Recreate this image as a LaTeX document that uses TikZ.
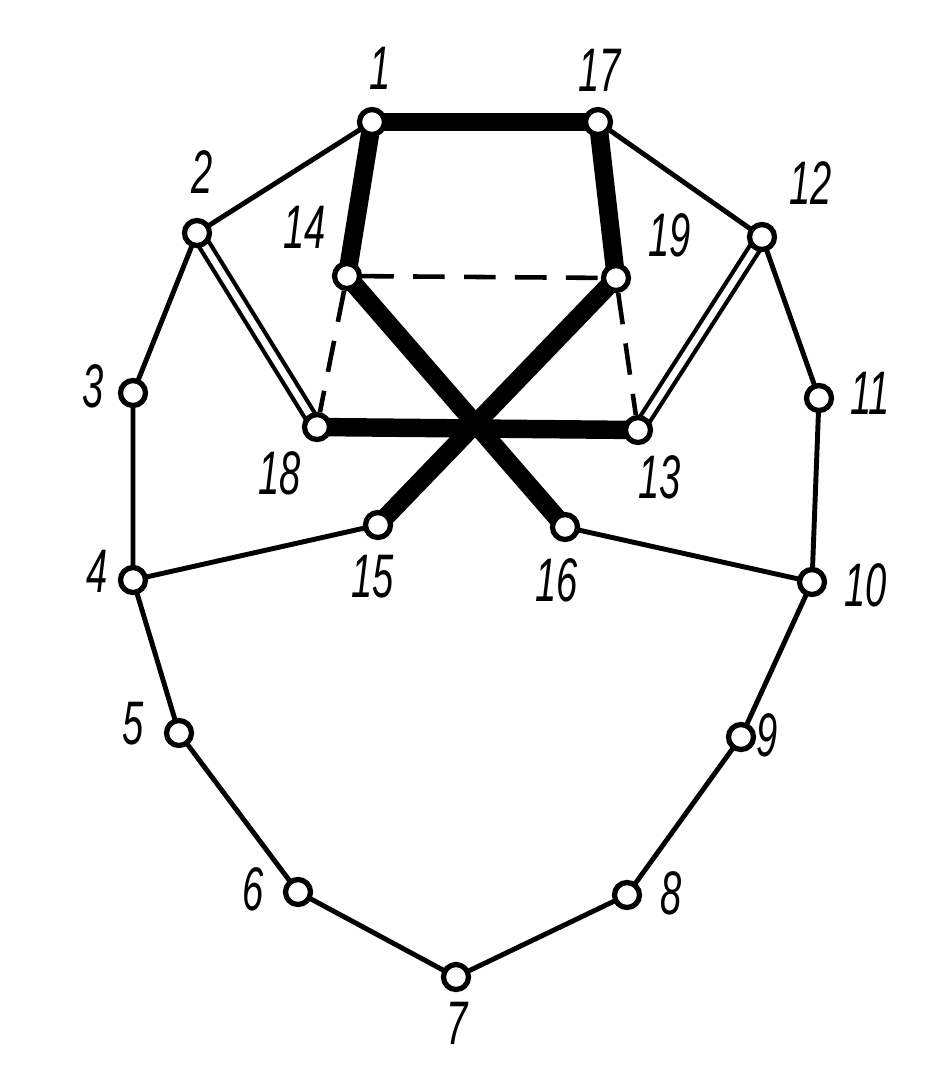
\documentclass[tikz,border=0pt]{standalone}
\usepackage{fontspec}
\usetikzlibrary{backgrounds}
\newfontfamily\labfont[FakeStretch=0.62]{Liberation Sans}
\begin{document}
\begin{tikzpicture}[x=0.02cm,y=-0.02cm,
  vtx/.style={circle,draw=black,fill=white,line width=3pt,minimum size=0.5cm,inner sep=0pt},
  lab/.style={font=\labfont\itshape\fontsize{35}{40}\selectfont,inner sep=0pt},
  thin/.style={line width=2.8pt},
  heavy/.style={line width=10.5pt},
  dsh/.style={line width=2.6pt,dash pattern=on 18pt off 11pt},
  dbl/.style={line width=2.4pt,double=white,double distance=3.8pt}]
\useasboundingbox (0,0) rectangle (948,1090);
% vertices
\node[vtx] (n1) at (372,122) {};
\node[vtx] (n17) at (598,122) {};
\node[vtx] (n2) at (197,233) {};
\node[vtx] (n12) at (762,237) {};
\node[vtx] (n14) at (347,276) {};
\node[vtx] (n19) at (616,278) {};
\node[vtx] (n3) at (133,393) {};
\node[vtx] (n11) at (819,398) {};
\node[vtx] (n18) at (317,427) {};
\node[vtx] (n13) at (638,430) {};
\node[vtx] (n15) at (378,525) {};
\node[vtx] (n16) at (565,527) {};
\node[vtx] (n4) at (133,580) {};
\node[vtx] (n10) at (812,582) {};
\node[vtx] (n5) at (179,733) {};
\node[vtx] (n9) at (741,737) {};
\node[vtx] (n6) at (298,892) {};
\node[vtx] (n8) at (627,895) {};
\node[vtx] (n7) at (456,977) {};
% labels
\node[lab] (l1) at (380,68) {1};
\node[lab] (l17) at (600,70) {17};
\node[lab] (l2) at (202,172) {2};
\node[lab] (l14) at (305,227) {14};
\node[lab] (l19) at (670,235) {19};
\node[lab] (l12) at (811,183) {12};
\node[lab] (l3) at (93,386) {3};
\node[lab] (l11) at (870,393) {11};
\node[lab] (l18) at (280,473) {18};
\node[lab] (l13) at (660,477) {13};
\node[lab] (l15) at (373,577) {15};
\node[lab] (l16) at (557,580) {16};
\node[lab] (l4) at (97,571) {4};
\node[lab] (l10) at (866,585) {10};
\node[lab] (l5) at (133,724) {5};
\node[lab] (l9) at (767,735) {9};
\node[lab] (l6) at (253,889) {6};
\node[lab] (l8) at (671,893) {8};
\node[lab] (l7) at (457,1023) {7};
% edges
\begin{scope}[on background layer]
\draw[heavy] (n1.center) -- (n17.center);
\draw[heavy] (n1.center) -- (n14.center);
\draw[heavy] (n17.center) -- (n19.center);
\draw[heavy] (n18.center) -- (n13.center);
\draw[heavy] (n14.center) -- (n16.center);
\draw[heavy] (n19.center) -- (n15.center);
\draw[dsh] (n14) -- (n19);
\draw[dsh] (n14) -- (n18);
\draw[dsh] (n19) -- (n13);
\draw[dbl] (n2.center) -- (n18.center);
\draw[dbl] (n12.center) -- (n13.center);
\draw[thin] (n1.center) -- (n2.center);
\draw[thin] (n17.center) -- (n12.center);
\draw[thin] (n2.center) -- (n3.center) -- (n4.center) -- (n5.center) -- (n6.center) -- (n7.center) -- (n8.center) -- (n9.center) -- (n10.center) -- (n11.center) -- (n12.center);
\draw[thin] (n4.center) -- (n15.center);
\draw[thin] (n10.center) -- (n16.center);
\end{scope}
\end{tikzpicture}
\end{document}
